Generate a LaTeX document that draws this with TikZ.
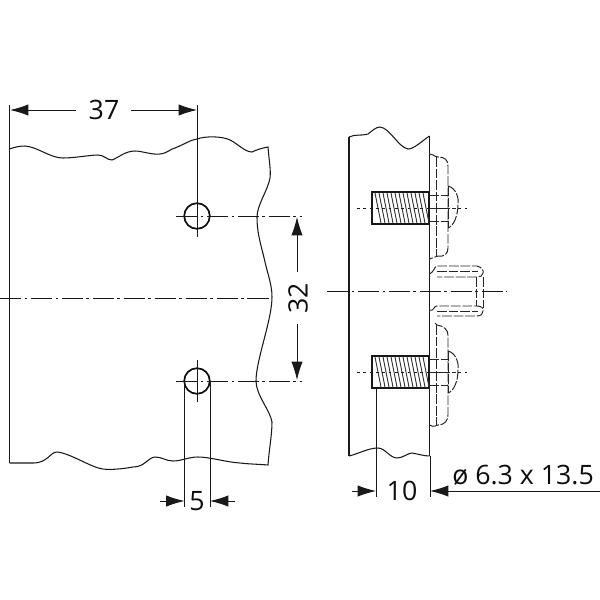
\documentclass[tikz,border=0pt]{standalone}
\usepackage{fontspec}
\setsansfont{Open Sans}
\usetikzlibrary{arrows.meta}
\tikzset{
  outline/.style={line width=1pt,black!90},
  thinline/.style={line width=0.6pt,black!90},
  axisline/.style={line width=0.6pt,black!90,dash pattern=on 15pt off 2.5pt on 2pt off 2.5pt},
  hidden/.style={line width=0.7pt,black!85,dash pattern=on 7pt off 1.2pt},
  dimline/.style={line width=0.6pt,black!90,-{Latex[length=13pt,width=8pt]}},
  dimtext/.style={font=\sffamily\fontsize{19}{21}\selectfont,inner sep=0pt,black!95},
  hole/.style={draw,shape=circle,line width=1.2pt,black!95,minimum size=0.64cm,inner sep=0pt}
}
\begin{document}
\begin{tikzpicture}[x=0.025cm,y=-0.025cm]
\useasboundingbox (0,0) rectangle (600,600);
% left plate
\draw[outline,line width=1.4pt] (9.5,149) -- (9.5,463);
\draw[thinline,line width=0.75pt] (9.5,149) .. controls (15,147) and (20,146) .. (25,146)
  .. controls (38,147) and (50,158) .. (63,158) .. controls (75,158) and (90,155) .. (98,155)
  .. controls (104,155) and (107,160) .. (112,160) .. controls (118,158) and (125,151) .. (135,151)
  .. controls (142,151) and (152,155) .. (160,154) .. controls (168,153) and (170,149) .. (175,148)
  .. controls (185,144) and (190,140) .. (197,139) .. controls (205,136) and (222,136) .. (230,140)
  .. controls (238,144) and (245,152) .. (252,152) .. controls (256,150) and (262,148) .. (268,147)
  .. controls (269,160) and (271,170) .. (270,178) .. controls (268,190) and (257,205) .. (257,217)
  .. controls (257,235) and (262,248) .. (265,262) .. controls (268,275) and (272,285) .. (272,297)
  .. controls (272,320) and (256,360) .. (256,381) .. controls (256,395) and (270,410) .. (272,422)
  .. controls (272,435) and (269,450) .. (268,465) .. controls (255,464) and (248,464) .. (240,463)
  .. controls (225,462) and (210,457) .. (198,457) .. controls (188,457) and (182,461) .. (173,461)
  .. controls (166,461) and (162,457) .. (155,457) .. controls (147,458) and (145,467) .. (133,467)
  .. controls (122,469) and (110,470) .. (103,469) .. controls (92,468) and (70,453) .. (57,452)
  .. controls (50,452) and (48,463) .. (33,463) -- (9.5,463);
\node[hole] (h1) at (197,216) {};
\node[hole] (h2) at (197,381) {};
% axis lines left
\coordinate (a1) at (0,298);
\coordinate (a2) at (272,298);
\draw[axisline] (a1) -- (a2);
\coordinate (b1) at (176,216);
\coordinate (b2) at (302,216);
\coordinate (c1) at (176,381);
\coordinate (c2) at (302,381);
\draw[axisline] (b1) -- (b2);
\draw[axisline] (c1) -- (c2);
\coordinate (t1) at (197,105);
\coordinate (t2) at (197,237);
\coordinate (t3) at (197,360);
\coordinate (t4) at (197,402);
\draw[thinline] (t1) -- (t2);
\draw[thinline] (t3) -- (t4);
% dimension 37
\node[dimtext] (d37) at (104,110) {37};
\coordinate (e1) at (9.5,105);
\coordinate (e2) at (9.5,149);
\coordinate (f1) at (10,110);
\coordinate (f2) at (197,110);
\draw[thinline] (e1) -- (e2);
\draw[dimline] (76,110) -- (f1);
\draw[dimline] (131,110) -- (f2);
% dimension 32
\node[dimtext,rotate=90] (d32) at (298,298) {32};
\coordinate (g1) at (297,217);
\coordinate (g2) at (297,380);
\draw[dimline] (297,272) -- (g1);
\draw[dimline] (297,324) -- (g2);
% dimension 5
\node[dimtext] (d5) at (197,501) {5};
\coordinate (k1) at (184.5,381);
\coordinate (k2) at (184.5,507);
\coordinate (k3) at (210,381);
\coordinate (k4) at (210,507);
\draw[thinline] (k1) -- (k2);
\draw[thinline] (k3) -- (k4);
\draw[dimline] (160,501) -- (k2 |- d5);
\draw[dimline] (235,501) -- (k4 |- d5);
% right part, section
\draw[outline,line width=1.3pt] (349,137) -- (349,456);
\draw[outline] (429.5,136) -- (429.5,456);
\draw[thinline,line width=0.75pt] (349,137) .. controls (355,134) and (362,136) .. (368,134)
  .. controls (372,131) and (376,127) .. (380,127) .. controls (390,128) and (398,147) .. (408,149)
  .. controls (414,149) and (422,141) .. (429.5,136);
\draw[thinline,line width=0.75pt] (349,456) .. controls (358,454) and (368,448) .. (378,448)
  .. controls (385,448) and (390,458) .. (397,458) .. controls (403,458) and (408,453) .. (412,453)
  .. controls (418,454) and (424,456) .. (429.5,456);
% screws
\foreach \yy in {192,356}{
  \draw[outline,line width=1.2pt] (372,\yy) rectangle (429,\yy+32);
  \foreach \xx in {375,379,...,423}{
    \draw[line width=0.65pt,black!80] (\xx,\yy+1) -- (\xx+6,\yy+31);
  }
  \draw[hidden] (429,\yy+3) -- (448,\yy+3);
  \draw[hidden] (429,\yy+29) -- (448,\yy+29);
  \draw[thinline,dash pattern=on 2pt off 2.5pt] (357,\yy+16) -- (470,\yy+16);
  \draw[hidden] (429,\yy+16) -- (456,\yy+16);
}
\draw[hidden] (448,186) .. controls (456,188) and (459,198) .. (458,204) .. controls (458,215) and (454,226) .. (448,228);
\draw[hidden] (448,186) -- (448,228);
\draw[hidden] (448,351) .. controls (456,353) and (459,363) .. (458,370) .. controls (458,381) and (454,391) .. (448,393);
\draw[hidden] (448,351) -- (448,393);
% cover plate and stud
\draw[hidden] (429.5,154) -- (433,155) .. controls (435,156) and (436,157) .. (438,157)
  .. controls (445,157) and (448,160) .. (448,166) -- (448,248)
  .. controls (448,254) and (444,257) .. (438,256) -- (429.5,259);
\draw[hidden] (436,157) -- (436,256);
\draw[hidden] (429.5,425) .. controls (434,428) and (436,425) .. (438,425)
  .. controls (445,425) and (448,420) .. (448,415) -- (448,335)
  .. controls (448,330) and (444,326) .. (437,325) -- (435,323);
\draw[hidden] (436,325) -- (436,425);
\draw[hidden] (429.5,274) .. controls (434,272) and (434,267) .. (437,266) -- (477,266)
  .. controls (481,267) and (484,270) .. (483,273) .. controls (483,276) and (480,277) .. (477,277) -- (437,277);
\draw[hidden] (437,271) -- (478,271);
\draw[hidden] (429.5,310) .. controls (434,312) and (434,305) .. (437,306) -- (477,306)
  .. controls (481,306) and (484,308) .. (483,311) .. controls (483,314) and (481,316) .. (477,316) -- (437,316);
\draw[hidden] (437,311) -- (478,311);
\draw[hidden] (476,277) -- (476,306);
\draw[hidden] (483,277) -- (483,308);
\coordinate (m1) at (327,291);
\coordinate (m2) at (507,291);
\draw[axisline] (m1) -- (m2);
% dimension 10 and hole text
\node[dimtext] (d10) at (402,491) {10};
\node[dimtext,anchor=west] (d6) at (452,475) {ø 6.3 x 13.5};
\coordinate (n1) at (376,388);
\coordinate (n2) at (376,497);
\coordinate (n3) at (430,456);
\coordinate (n4) at (430,497);
\coordinate (n5) at (600,491);
\draw[thinline] (n1) -- (n2);
\draw[thinline] (n3) -- (n4);
\draw[dimline] (352,491) -- (n1 |- d10);
\draw[dimline] (n5) -- (n3 |- n5);
\end{tikzpicture}
\end{document}
